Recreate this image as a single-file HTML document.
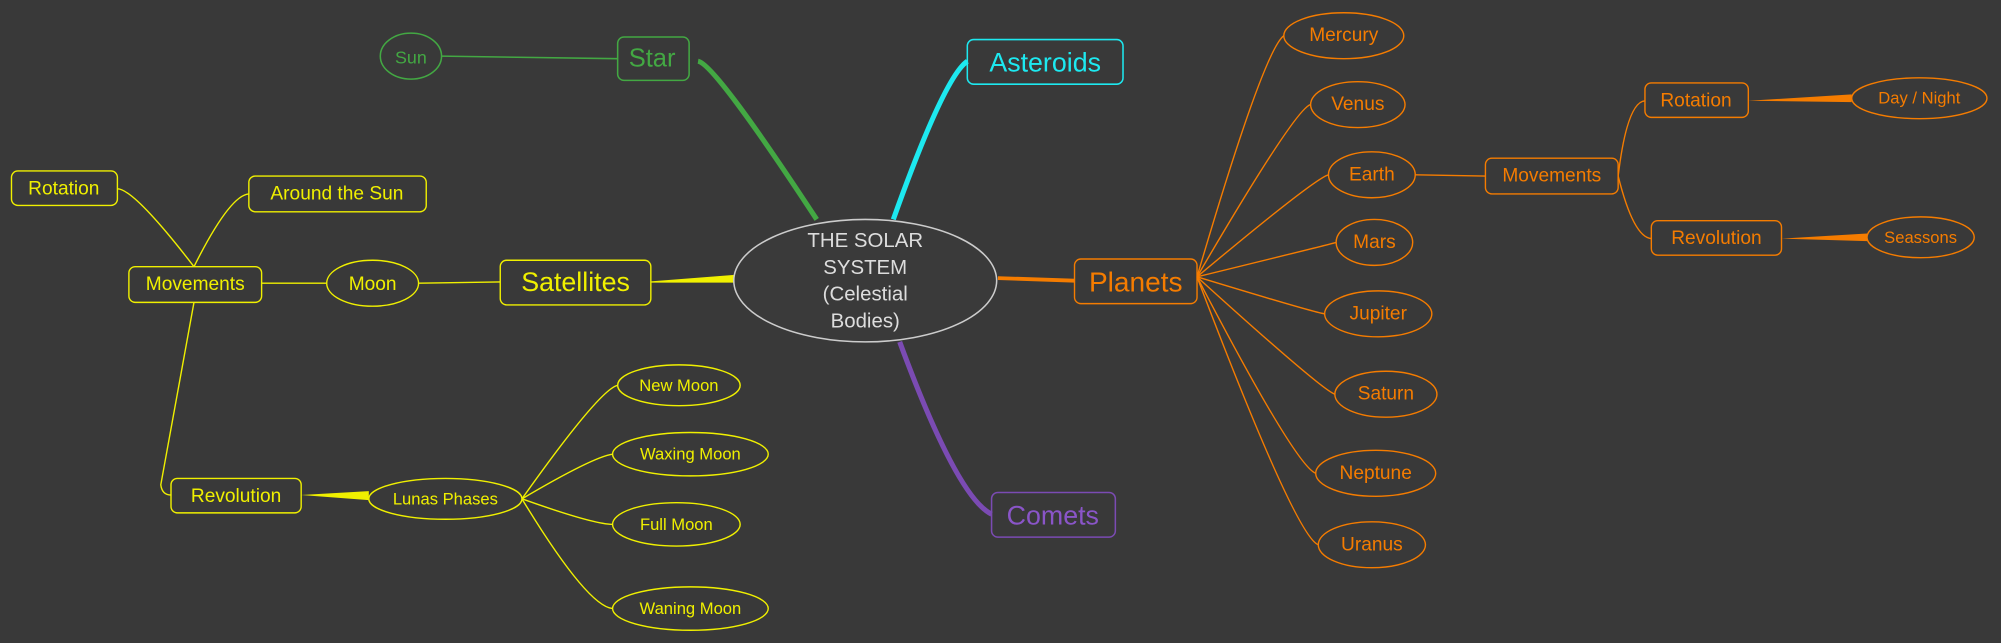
<!DOCTYPE html>
<html><head><meta charset="utf-8"><style>
html,body{margin:0;padding:0;background:#393939;}
svg{display:block}
text{font-family:"Liberation Sans",sans-serif;text-anchor:middle;dominant-baseline:central}
</style></head><body>
<svg width="2001" height="643" viewBox="0 0 1568 504" preserveAspectRatio="none" xmlns="http://www.w3.org/2000/svg">
<rect width="1568" height="504" fill="#393939"/>
<!-- main branches -->
<path d="M547 48 Q560 50 640 172" stroke="#43a843" stroke-width="4" fill="none"/>
<path d="M700 172 Q740 60 758 48" stroke="#1de9f0" stroke-width="4" fill="none"/>
<path d="M782 218 L842 220" stroke="#f57c00" stroke-width="3" fill="none"/>
<path d="M705 268 Q750 390 777 403" stroke="#7b4bb3" stroke-width="4" fill="none"/>
<path d="M510 221 L575 216 L575 221 Z" fill="#f0f000" stroke="#f0f000" stroke-width="1"/>
<!-- center -->
<ellipse cx="678" cy="220" rx="103" ry="48" fill="#3a3a3a" stroke="#ccc" stroke-width="1.2"/>
<g fill="#ddd" font-size="16">
<text x="678" y="189">THE SOLAR</text><text x="678" y="210">SYSTEM</text>
<text x="678" y="231">(Celestial</text><text x="678" y="252">Bodies)</text></g>
<!-- star -->
<g stroke="#43a843" fill="none" stroke-width="1.2">
<line x1="346" y1="44" x2="484" y2="46"/>
<ellipse cx="322" cy="44" rx="24" ry="18"/>
<rect x="484" y="29" width="56" height="34" rx="5"/>
</g>
<g fill="#43a843"><text x="322" y="45" font-size="14">Sun</text><text x="511" y="46" font-size="20">Star</text></g>
<!-- asteroids / planets / comets -->
<rect x="758" y="31" width="122" height="35" rx="5" fill="none" stroke="#1de9f0" stroke-width="1.2"/>
<text x="819" y="49" font-size="21" fill="#1de9f0">Asteroids</text>
<rect x="777" y="386" width="97" height="35" rx="5" fill="none" stroke="#7b4bb3" stroke-width="1.2"/>
<text x="825" y="404" font-size="21" fill="#8a55c8">Comets</text>
<!-- planets -->
<g stroke="#f57c00" fill="none" stroke-width="1.1">
<rect x="842" y="203" width="96" height="35" rx="5"/>
<path d="M938 217 Q990 40 1006 28"/><path d="M938 217 Q1015 85 1027 82"/>
<path d="M938 217 Q1030 140 1041 137"/><path d="M938 217 Q1040 192 1047 190"/>
<path d="M938 217 Q1030 245 1038 246"/><path d="M938 217 Q1035 305 1046 309"/>
<path d="M938 217 Q1015 365 1031 371"/><path d="M938 217 Q1015 420 1033 427"/>
<ellipse cx="1053" cy="28" rx="47" ry="18"/><ellipse cx="1064" cy="82" rx="37" ry="18"/>
<ellipse cx="1075" cy="137" rx="34" ry="18"/><ellipse cx="1077" cy="190" rx="30" ry="18"/>
<ellipse cx="1080" cy="246" rx="42" ry="18"/><ellipse cx="1086" cy="309" rx="40" ry="18"/>
<ellipse cx="1078" cy="371" rx="47" ry="18"/><ellipse cx="1075" cy="427" rx="42" ry="18"/>
<line x1="1109" y1="137" x2="1164" y2="138"/>
<rect x="1164" y="124" width="104" height="28" rx="5"/>
<path d="M1268 138 Q1275 80 1289 79"/><path d="M1268 138 Q1280 186 1294 187"/>
<rect x="1289" y="65" width="81" height="27" rx="5"/>
<rect x="1294" y="173" width="102" height="27" rx="5"/>
<ellipse cx="1504" cy="77" rx="53" ry="16"/><ellipse cx="1505" cy="186" rx="42" ry="16"/>
</g>
<path d="M1370 79 L1451 74 L1451 80 Z" fill="#f57c00"/>
<path d="M1396 187 L1463 183 L1463 189 Z" fill="#f57c00"/>
<g fill="#f57c00" font-size="15">
<text x="890" y="221" font-size="22">Planets</text>
<text x="1053" y="28">Mercury</text><text x="1064" y="82">Venus</text>
<text x="1075" y="137">Earth</text><text x="1077" y="190">Mars</text>
<text x="1080" y="246">Jupiter</text><text x="1086" y="309">Saturn</text>
<text x="1078" y="371">Neptune</text><text x="1075" y="427">Uranus</text>
<text x="1216" y="138">Movements</text><text x="1329" y="79">Rotation</text>
<text x="1345" y="187">Revolution</text>
<text x="1504" y="77" font-size="13">Day / Night</text><text x="1505" y="186" font-size="13">Seassons</text>
</g>
<!-- satellites -->
<g stroke="#f0f000" fill="none" stroke-width="1.1">
<rect x="392" y="204" width="118" height="35" rx="5"/>
<line x1="328" y1="222" x2="392" y2="221"/>
<ellipse cx="292" cy="222" rx="36" ry="18"/>
<line x1="205" y1="222" x2="256" y2="222"/>
<rect x="101" y="209" width="104" height="28" rx="5"/>
<path d="M92 148 Q105 148 152 209"/><path d="M152 209 Q180 153 195 152"/>
<path d="M152 237 L126 380 Q127 388 134 388"/>
<rect x="9" y="134" width="83" height="27" rx="5"/>
<rect x="195" y="138" width="139" height="28" rx="5"/>
<rect x="134" y="375" width="102" height="27" rx="5"/>
<ellipse cx="349" cy="391" rx="60" ry="16"/>
<path d="M409 391 Q470 305 484 302"/><path d="M409 391 Q465 358 480 356"/>
<path d="M409 391 Q465 411 480 411"/><path d="M409 391 Q460 475 480 477"/>
<ellipse cx="532" cy="302" rx="48" ry="16"/><ellipse cx="541" cy="356" rx="61" ry="17"/>
<ellipse cx="530" cy="411" rx="50" ry="17"/><ellipse cx="541" cy="477" rx="61" ry="17"/>
</g>
<path d="M236 388 L289 385 L289 392 Z" fill="#f0f000"/>
<g fill="#f0f000" font-size="15">
<text x="451" y="221" font-size="21">Satellites</text>
<text x="292" y="223">Moon</text><text x="153" y="223">Movements</text>
<text x="50" y="148">Rotation</text><text x="264" y="152">Around the Sun</text>
<text x="185" y="389">Revolution</text>
<text x="349" y="391" font-size="13">Lunas Phases</text>
<text x="532" y="302" font-size="13">New Moon</text><text x="541" y="356" font-size="13">Waxing Moon</text>
<text x="530" y="411" font-size="13">Full Moon</text><text x="541" y="477" font-size="13">Waning Moon</text>
</g>
</svg>
</body></html>
